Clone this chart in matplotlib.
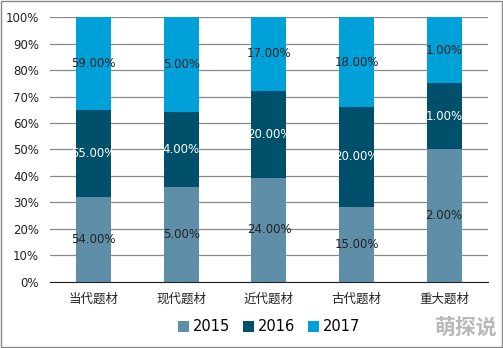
import numpy as np
import matplotlib.pyplot as plt
from matplotlib.patches import Rectangle

plt.rcParams['font.family'] = ['Noto Sans CJK SC', 'DejaVu Sans']

categories = ['当代题材', '现代题材', '近代题材', '古代题材', '重大题材']
years = ['2015', '2016', '2017']
v2015 = [54, 5, 24, 15, 2]
v2016 = [55, 4, 20, 20, 1]
v2017 = [59, 5, 17, 18, 1]
colors = ['#5f8fa8', '#004f6b', '#00a0d8']
text_colors = ['#222222', 'white', '#222222']

data = np.array([v2015, v2016, v2017], dtype=float)
share = data / data.sum(axis=0) * 100

fig = plt.figure(figsize=(5.03, 3.48), dpi=100)
ax = fig.add_axes([0.0994, 0.19, 0.8706, 0.761])
x = np.arange(len(categories))
bottom = np.zeros(len(categories))
for i in range(3):
    ax.bar(x, share[i], 0.4, bottom=bottom, color=colors[i], label=years[i], zorder=3)
    for xi, b, h, v in zip(x, bottom, share[i], data[i]):
        ax.text(xi, b + h / 2, f'{v:.2f}%', ha='center', va='center',
                fontsize=8.5, color=text_colors[i], zorder=4, family='DejaVu Sans')
    bottom += share[i]

ax.set_xlim(-0.5, len(categories) - 0.5)
ax.set_ylim(0, 100)
ax.set_yticks(np.arange(0, 101, 10))
ax.set_yticklabels([f'{t}%' for t in range(0, 101, 10)], family='DejaVu Sans')
ax.set_xticks(x)
ax.set_xticklabels(categories, fontsize=9)
ax.tick_params(axis='both', length=0, colors='#222222')
ax.tick_params(axis='y', labelsize=8.5, pad=8)
ax.tick_params(axis='x', pad=8)
ax.grid(axis='y', color='#888888', linewidth=0.9, zorder=0)
for s in ['top', 'right', 'left']:
    ax.spines[s].set_visible(False)
ax.spines['bottom'].set_color('#222222')
ax.spines['bottom'].set_zorder(5)

ax.legend(loc='center', bbox_to_anchor=(0.5, -0.17), ncol=3, frameon=False,
          prop={'family': 'DejaVu Sans', 'size': 10.5},
          handlelength=0.75, handleheight=0.75, handletextpad=0.25,
          columnspacing=0.9)

fig.text(0.99, 0.058, '萌探说', ha='right', va='center', fontsize=15,
         fontweight='bold', color='#b8b8b8')
fig.patches.append(Rectangle((0.002, 0.002), 0.996, 0.996, transform=fig.transFigure,
                             fill=False, edgecolor='#888888', linewidth=1))

fig.savefig('out.png', dpi=100)
